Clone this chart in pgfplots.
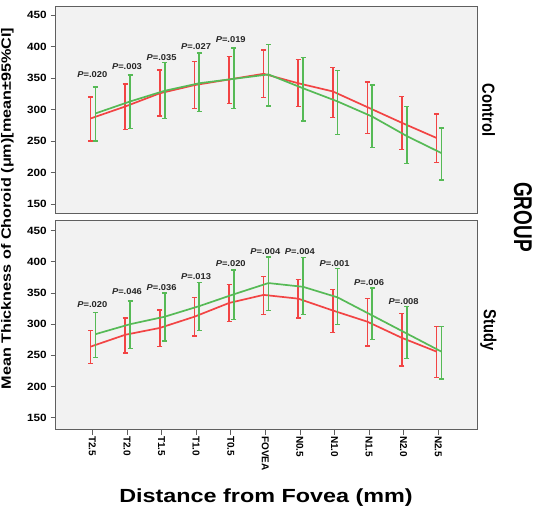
\documentclass[border=0pt]{standalone}
\usepackage{fontspec}
\setmainfont{Liberation Sans}
\usepackage{pgfplots}
\usepackage{pgfplotstable}
\pgfplotsset{compat=1.18}

\definecolor{cred}{RGB}{242,68,68}
\definecolor{cgreen}{RGB}{86,186,86}
\definecolor{panelbg}{RGB}{242,242,242}
\definecolor{framegray}{RGB}{95,95,95}

% Mean choroidal thickness with 95% CI: i = position index, m = mean, lo/hi = CI limits
\pgfplotstableread{
i  m    lo   hi
0  286  250  320
1  305  269  341
2  326  290  363
3  339  302  376
4  348  310  385
5  357  319  395
6  342  305  380
7  329  288  367
8  304  262  344
9  279  237  321
10 255  216  293
}\ctrlRed
\pgfplotstableread{
i  m    lo   hi
0  294  250  336
1  313  270  355
2  330  286  375
3  342  297  390
4  349  302  398
5  356  306  404
6  334  282  383
7  313  261  362
8  289  240  339
9  258  214  305
10 231  188  271
}\ctrlGreen
\pgfplotstableread{
i  m    lo   hi
0  264  237  290
1  283  254  310
2  294  264  323
3  312  281  343
4  334  304  364
5  347  316  376
6  341  310  372
7  322  287  356
8  304  265  341
9  278  233  317
10 256  214  296
}\studyRed
\pgfplotstableread{
i  m    lo   hi
0  284  247  319
1  300  261  337
2  312  273  350
3  329  290  367
4  348  308  387
5  366  322  408
6  360  315  407
7  343  299  389
8  314  275  358
9  285  245  328
10 256  212  296
}\studyGreen

\tikzset{plab/.style={font=\fontsize{8.5}{10}\selectfont\bfseries, text=black!85, xscale=1.1}}

\pgfplotsset{
  panel/.style={
    scale only axis, width=422pt,
    xmin=-1.06, xmax=11.14,
    axis background/.style={fill=panelbg},
    axis line style={framegray, line width=0.9pt},
    ytick={150,200,...,450},
    ytick pos=left,
    yticklabel style={font=\fontsize{10.5}{12}\selectfont\bfseries, xscale=1.12},
    /pgf/number format/assume math mode=true,
    tick style={framegray, line width=0.8pt},
    major tick length=5pt,
    tick align=outside,
    clip=false,
  },
  group line/.style={
    line width=1.7pt, color=#1, mark=none,
    error bars/.cd, y dir=both, y explicit,
    error bar style={line width=1.7pt, #1},
    error mark options={rotate=90, line width=1.3pt, mark size=2.5pt, #1},
  },
}

\newcommand{\ciplot}[3]{%
  \addplot[group line=#1] table[x expr=\thisrow{i}#3, y=m,
    y error plus expr=\thisrow{hi}-\thisrow{m},
    y error minus expr=\thisrow{m}-\thisrow{lo}] {#2};}

\begin{document}
\begin{tikzpicture}[x=1pt, y=1pt]
\useasboundingbox (0,0) rectangle (545,511);

% Control group
\begin{axis}[panel, at={(55.7pt,298pt)}, anchor=south west,
    height=207pt, ymin=135.7, ymax=464.8, xtick=\empty]
  \ciplot{cred}{\ctrlRed}{-0.05}
  \ciplot{cgreen}{\ctrlGreen}{+0.09}
  \node[plab] at (axis cs:0,355) {\textit{P}=.020};
  \node[plab] at (axis cs:1,368) {\textit{P}=.003};
  \node[plab] at (axis cs:2,383) {\textit{P}=.035};
  \node[plab] at (axis cs:3,400) {\textit{P}=.027};
  \node[plab] at (axis cs:4,411) {\textit{P}=.019};
\end{axis}

% Study group
\begin{axis}[panel, at={(55.7pt,81.5pt)}, anchor=south west,
    height=209.5pt, ymin=131, ymax=467.2,
    xtick={0,...,10}, xtick pos=bottom,
    xticklabels={T2.5,T2.0,T1.5,T1.0,T0.5,FOVEA,N0.5,N1.0,N1.5,N2.0,N2.5},
    xticklabel style={rotate=-90, anchor=west, inner sep=1.5pt,
      font=\fontsize{10}{12}\selectfont\bfseries}]
  \ciplot{cred}{\studyRed}{-0.05}
  \ciplot{cgreen}{\studyGreen}{+0.09}
  \node[plab] at (axis cs:0,332) {\textit{P}=.020};
  \node[plab] at (axis cs:1,352) {\textit{P}=.046};
  \node[plab] at (axis cs:2,359) {\textit{P}=.036};
  \node[plab] at (axis cs:3,376) {\textit{P}=.013};
  \node[plab] at (axis cs:4,398) {\textit{P}=.020};
  \node[plab] at (axis cs:5,417) {\textit{P}=.004};
  \node[plab] at (axis cs:6,416) {\textit{P}=.004};
  \node[plab] at (axis cs:7,398) {\textit{P}=.001};
  \node[plab] at (axis cs:8,367) {\textit{P}=.006};
  \node[plab] at (axis cs:9,337) {\textit{P}=.008};
\end{axis}

% Panel strip labels and axis titles
\node[rotate=-90, font=\fontsize{14}{16}\selectfont\bfseries] at (488.5,401) {\scalebox{1.05}[1.25]{Control}};
\node[rotate=-90, font=\fontsize{14}{16}\selectfont\bfseries] at (488.5,181) {\scalebox{1.05}[1.25]{Study}};
\node[rotate=-90, font=\fontsize{19}{22}\selectfont\bfseries] at (523,294) {\scalebox{1}[1.35]{GROUP}};
\node[font=\fontsize{19}{22}\selectfont\bfseries] at (266,13) {\scalebox{1.23}[1]{Distance from Fovea (mm)}};
\node[rotate=90, inner sep=0pt, font=\fontsize{13.5}{15}\selectfont\bfseries] at (7.5,302.5) {\scalebox{1.2}[1]{Mean Thickness of Choroid (μm)[mean±95\%CI]}};
\end{tikzpicture}
\end{document}
